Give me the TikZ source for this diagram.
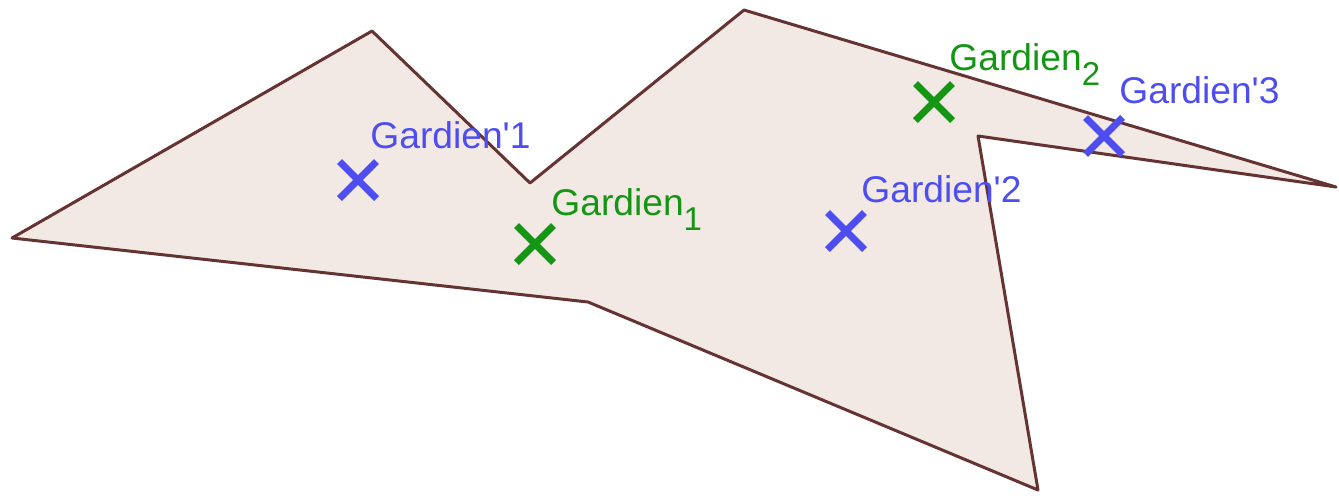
\documentclass[tikz,border=0pt]{standalone}
\usepackage{fontspec}
\setmainfont{Liberation Sans}
\usetikzlibrary{shapes.misc}
\definecolor{edgec}{RGB}{102,51,51}
\definecolor{fillc}{RGB}{242,233,228}
\definecolor{guardblue}{RGB}{77,77,240}
\definecolor{guardgreen}{RGB}{20,150,20}
\tikzset{
  poly/.style={draw=edgec, fill=fillc, line width=1.5pt, line join=round},
  gx/.style={cross out, draw, line width=3.5pt, minimum size=15pt, inner sep=0pt},
  bluex/.style={gx, draw=guardblue},
  greenx/.style={gx, draw=guardgreen},
  lbl/.style={anchor=base west, inner sep=0pt, font=\fontsize{18.6}{20}\selectfont},
}
\newcommand{\lowsub}[1]{\raisebox{-0.42em}{\fontsize{16.5}{18}\selectfont #1}}
\begin{document}
\begin{tikzpicture}[x=0.5pt,y=-0.5pt]
\useasboundingbox (0,0) rectangle (1339,495);
\coordinate (A) at (12,238);
\coordinate (B) at (372,31);
\coordinate (C) at (530,183);
\coordinate (D) at (744,10);
\coordinate (E) at (1336,187);
\coordinate (F) at (978,136);
\coordinate (G) at (1038,490);
\coordinate (H) at (588,302);
\draw[poly] (A) -- (B) -- (C) -- (D) -- (E) -- (F) -- (G) -- (H) -- cycle;

\node[bluex] (p1) at (358,180) {};
\node[greenx] (g1) at (535,244) {};
\node[greenx] (g2) at (934,102) {};
\node[bluex] (p2) at (846,231) {};
\node[bluex] (p3) at (1104,136) {};

\node[lbl, text=guardblue] (lp1) at (370,148) {Gardien\textquotesingle 1};
\node[lbl, text=guardgreen] (lg1) at (551,215) {Gardien\lowsub{1}};
\node[lbl, text=guardgreen] (lg2) at (949,70) {Gardien\lowsub{2}};
\node[lbl, text=guardblue] (lp2) at (861,202) {Gardien\textquotesingle 2};
\node[lbl, text=guardblue] (lp3) at (1119,103) {Gardien\textquotesingle 3};
\end{tikzpicture}
\end{document}
